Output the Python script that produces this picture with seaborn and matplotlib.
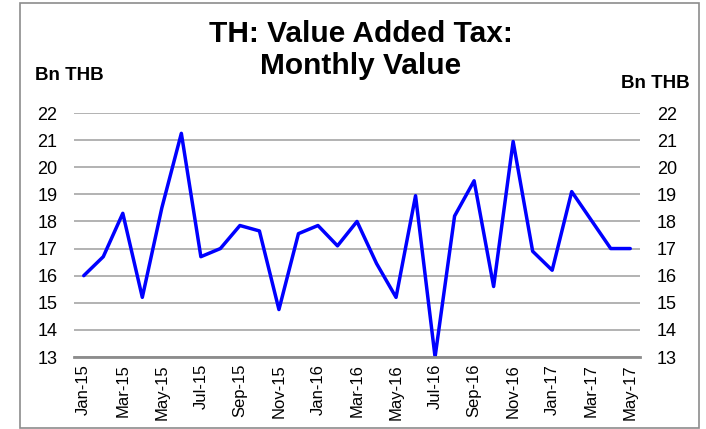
import matplotlib
matplotlib.use("Agg")
import matplotlib.pyplot as plt
import seaborn as sns
import pandas as pd
from matplotlib.patches import Rectangle

months = ["Jan-15", "Feb-15", "Mar-15", "Apr-15", "May-15", "Jun-15", "Jul-15",
          "Aug-15", "Sep-15", "Oct-15", "Nov-15", "Dec-15", "Jan-16", "Feb-16",
          "Mar-16", "Apr-16", "May-16", "Jun-16", "Jul-16", "Aug-16", "Sep-16",
          "Oct-16", "Nov-16", "Dec-16", "Jan-17", "Feb-17", "Mar-17", "Apr-17",
          "May-17"]
vat_bn_thb = [16.0, 16.7, 18.3, 15.2, 18.5, 21.25, 16.7, 17.0, 17.85, 17.65,
              14.75, 17.55, 17.85, 17.1, 18.0, 16.45, 15.2, 18.95, 13.0, 18.2,
              19.5, 15.6, 20.95, 16.9, 16.2, 19.1, 18.05, 17.0, 17.0]
y_ticks = list(range(13, 23))

df = pd.DataFrame({"pos": range(len(months)), "value": vat_bn_thb})

sns.set_style("white")
plt.rcParams["font.family"] = ["Liberation Sans", "DejaVu Sans"]
plt.rcParams["text.color"] = "black"
plt.rcParams["xtick.color"] = "black"
plt.rcParams["ytick.color"] = "black"

W, H = 706, 429
fig = plt.figure(figsize=(W / 100, H / 100), dpi=100)
fig.patch.set_facecolor("white")

# outer frame
fig.add_artist(Rectangle((20 / W, 1 - 428 / H), (699 - 20) / W, (428 - 3) / H,
                         transform=fig.transFigure, fill=False,
                         edgecolor="#8c8c8c", linewidth=1.2))

left, right, top, bottom = 74, 640, 113, 357
ax = fig.add_axes([left / W, 1 - bottom / H, (right - left) / W, (bottom - top) / H])

sns.lineplot(data=df, x="pos", y="value", ax=ax, color="#0000ff",
             linewidth=2.5, zorder=3)

ax.set_ylim(13, 22)
ax.set_xlim(-0.5, len(months) - 0.5)
ax.set_yticks(y_ticks)
ax.set_yticklabels([str(v) for v in y_ticks], fontsize=13)
ax.yaxis.grid(True, color="#a6a6a6", linewidth=1.2)
ax.set_axisbelow(True)
for side in ["left", "right", "top"]:
    ax.spines[side].set_visible(False)
ax.spines["bottom"].set_color("#8c8c8c")
ax.spines["bottom"].set_linewidth(2)
ax.spines["bottom"].set_zorder(4)

xt = list(range(0, len(months), 2))
ax.set_xticks(xt)
ax.set_xticklabels([months[i] for i in xt], rotation=90, fontsize=12)
ax.tick_params(axis="both", length=0)
ax.tick_params(axis="y", pad=12)
ax.tick_params(axis="x", pad=5)
ax.set_xlabel("")
ax.set_ylabel("")

ax2 = ax.twinx()
ax2.set_ylim(13, 22)
ax2.set_yticks(y_ticks)
ax2.set_yticklabels([str(v) for v in y_ticks], fontsize=13)
ax2.tick_params(axis="y", length=0, pad=12)
for side in ["left", "right", "top", "bottom"]:
    ax2.spines[side].set_visible(False)

fig.text(361 / W, 1 - 50 / H, "TH: Value Added Tax:\nMonthly Value",
         ha="center", va="center", fontsize=21.5, fontweight="bold",
         linespacing=1.2)
fig.text(35 / W, 1 - 75 / H, "Bn THB", ha="left", va="center",
         fontsize=13.5, fontweight="bold")
fig.text(690 / W, 1 - 83 / H, "Bn THB", ha="right", va="center",
         fontsize=13.5, fontweight="bold")

fig.savefig("out.png", dpi=100, facecolor="white")
